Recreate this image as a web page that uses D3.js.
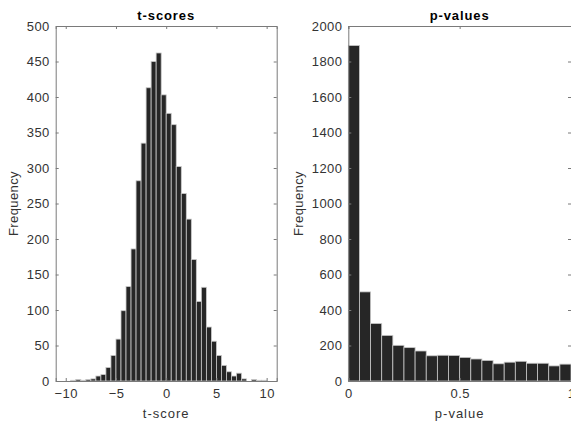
<!DOCTYPE html>
<html><head><meta charset="utf-8">
<script src="https://cdn.jsdelivr.net/npm/d3@7"></script>
<style>body{margin:0;background:#fff}svg{display:block}text{font-family:"Liberation Sans",Arial,sans-serif}</style>
</head><body><svg id="c" width="571" height="423"></svg>
<script>
// t-score histogram: bin edges (width 0.5) and counts
const tEdgesStart = -10, tBinWidth = 0.5;
const tCounts = [0,1,2,1,2,3,7,9,19,36,59,99,133,186,282,335,413,450,462,403,
                 377,361,302,264,228,171,112,132,76,56,36,22,13,7,11,3,0,2,1,1];
// p-value histogram: 20 bins on [0,1]
const pBinWidth = 0.05;
const pCounts = [1890,502,324,257,201,188,169,142,145,144,133,124,116,97,106,111,100,100,85,95];
const tTicksX = [-10,-5,0,5,10];
const tTicksY = [0,50,100,150,200,250,300,350,400,450,500];
const pTicksX = [0,0.5,1];
const pTicksY = [0,200,400,600,800,1000,1200,1400,1600,1800,2000];

const svg = d3.select("#c");
const axisCol = "#7a7a7a", textCol = "#333";

function panel(opt){
  const {x0,x1,y0,y1,xdom,ydom,bins,xt,yt,title,xlabel,ylabelX,fmtX} = opt;
  const x = d3.scaleLinear().domain(xdom).range([x0,x1]);
  const y = d3.scaleLinear().domain(ydom).range([y1,y0]);
  const g = svg.append("g");
  g.selectAll("rect").data(bins).join("rect")
    .attr("x",d=>x(d.a)).attr("width",d=>x(d.b)-x(d.a))
    .attr("y",d=>y(d.v)).attr("height",d=>y(0)-y(d.v))
    .attr("fill","#262626").attr("stroke","#c8c8c8").attr("stroke-width",0.8);
  const tl = 3;
  const bottom = g.append("g").attr("transform",`translate(0,${y1})`)
    .call(d3.axisBottom(x).tickValues(xt).tickSize(-tl).tickPadding(8).tickFormat(fmtX));
  const top = g.append("g").attr("transform",`translate(0,${y0})`)
    .call(d3.axisTop(x).tickValues(xt).tickSize(-tl).tickFormat(""));
  const left = g.append("g").attr("transform",`translate(${x0},0)`)
    .call(d3.axisLeft(y).tickValues(yt).tickSize(-tl).tickPadding(6).tickFormat(d3.format("d")));
  const right = g.append("g").attr("transform",`translate(${x1},0)`)
    .call(d3.axisRight(y).tickValues(yt).tickSize(-tl).tickFormat(""));
  [bottom,top,left,right].forEach(a=>{
    a.select(".domain").attr("stroke",axisCol).attr("stroke-width",1);
    a.selectAll(".tick line").attr("stroke",axisCol);
    a.selectAll("text").attr("fill",textCol).attr("font-size",13).attr("letter-spacing","0.4px");
  });
  g.append("text").attr("x",(x0+x1)/2).attr("y",y0-6).attr("text-anchor","middle")
    .attr("font-weight","bold").attr("font-size",13).attr("letter-spacing","0.9px")
    .attr("fill","#000").text(title);
  g.append("text").attr("x",(x0+x1)/2).attr("y",y1+37).attr("text-anchor","middle")
    .attr("font-size",13).attr("letter-spacing","1px").attr("fill",textCol).text(xlabel);
  g.append("text").attr("transform",`translate(${ylabelX},${(y0+y1)/2}) rotate(-90)`)
    .attr("text-anchor","middle").attr("font-size",13).attr("letter-spacing","0.4px")
    .attr("fill",textCol).text("Frequency");
}

const tBins = tCounts.map((v,i)=>({a:tEdgesStart+i*tBinWidth,b:tEdgesStart+(i+1)*tBinWidth,v}));
const pBins = pCounts.map((v,i)=>({a:i*pBinWidth,b:(i+1)*pBinWidth,v}));

panel({x0:55.7,x1:276.7,y0:26,y1:381,xdom:[-11,11],ydom:[0,500],bins:tBins,
  xt:tTicksX,yt:tTicksY,title:"t-scores",xlabel:"t-score",ylabelX:18,fmtX:d3.format("d")});
panel({x0:348.3,x1:571,y0:26,y1:381,xdom:[0,1],ydom:[0,2000],bins:pBins,
  xt:pTicksX,yt:pTicksY,title:"p-values",xlabel:"p-value",ylabelX:303,fmtX:d=>d===0.5?"0.5":String(d)});
</script></body></html>
